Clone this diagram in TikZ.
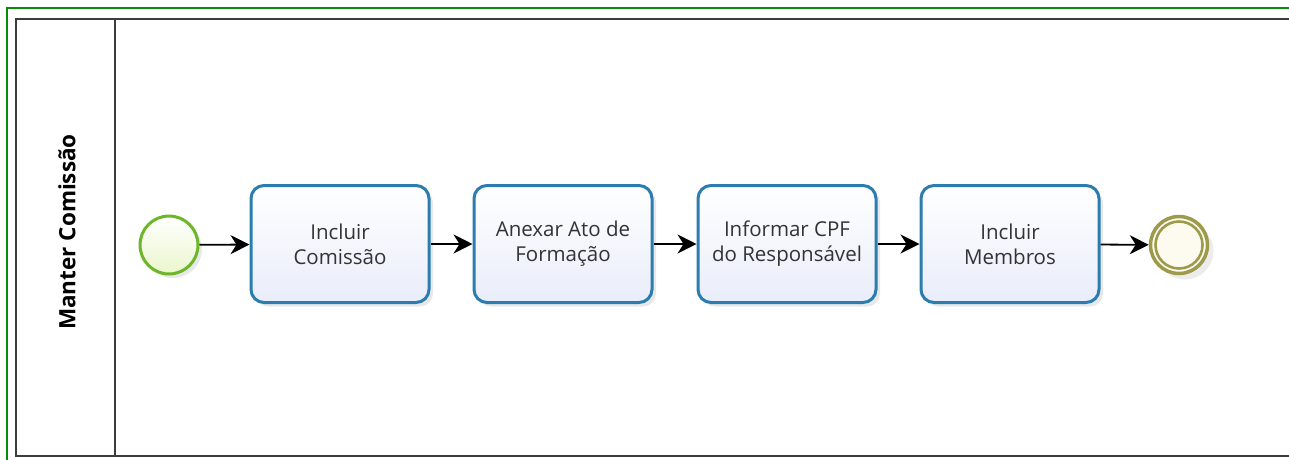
\documentclass[tikz,border=0pt]{standalone}
\usepackage{fontspec}
\setmainfont{Open Sans}
\usetikzlibrary{arrows.meta,shadows,shapes.geometric}
\definecolor{taskblue}{HTML}{2B7DAF}
\definecolor{taskfill}{HTML}{E9EDFA}
\definecolor{startgreen}{HTML}{6DB52A}
\definecolor{startfill}{HTML}{EAF6CC}
\definecolor{endolive}{HTML}{9D9A4C}
\definecolor{endfill}{HTML}{FDFAF0}
\definecolor{lanegray}{HTML}{3C3C3C}
\definecolor{framegreen}{HTML}{0A8A0A}
\tikzset{
  task/.style={draw=taskblue, line width=3pt, rounded corners=13pt,
    minimum width=178pt, minimum height=117pt, align=center,
    top color=white, bottom color=taskfill, middle color=taskfill!50,
    font=\fontsize{20.5}{25}\selectfont, text=black!80,
    drop shadow={opacity=0.18, shadow xshift=4pt, shadow yshift=-4pt}},
  startev/.style={circle, draw=startgreen, line width=3pt, minimum size=58pt,
    inner sep=0pt, top color=white, bottom color=startfill,
    drop shadow={opacity=0.18, shadow xshift=4pt, shadow yshift=-4pt}},
  endev/.style={circle, draw=endolive, line width=3.5pt, minimum size=57pt,
    inner sep=0pt, fill=endfill,
    drop shadow={opacity=0.15, shadow xshift=6pt, shadow yshift=-6pt}},
  endring/.style={draw=endolive, line width=2.6pt},
  flow/.style={draw=black, line width=1.8pt, -{Stealth[length=19pt,width=19pt,inset=6pt]}},
  lane/.style={draw=lanegray, line width=2.6pt},
}
\begin{document}
\begin{tikzpicture}[x=1pt,y=-1pt]
\useasboundingbox (0,0) rectangle (1289,459);
\begin{scope}
\clip (0,0) rectangle (1289,459);
\draw[framegreen, line width=1.4pt] (7,8) rectangle (1300,470);
\draw[lane] (16,19) rectangle (1300,456);
\draw[lane] (115,19) -- (115,456);
\end{scope}
\node[rotate=90, font=\bfseries\fontsize{22.5}{26}\selectfont] (lbl) at (67,232) {Manter Comissão};
\node[startev] (s) at (169,245) {};
\node[task] (t1) at (340,244) {Incluir\\Comissão};
\node[task] (t2) at (563,244) {Anexar Ato de\\Formação};
\node[task] (t3) at (787,244) {Informar CPF\\do Responsável};
\node[task] (t4) at (1010,244) {Incluir\\Membros};
\node[endev] (e) at (1179,245) {};
\draw[endring] (e.center) circle (23.5pt);
\draw[flow] (s) -- (t1);
\draw[flow] (t1) -- (t2);
\draw[flow] (t2) -- (t3);
\draw[flow] (t3) -- (t4);
\draw[flow] (t4) -- (e);
\end{tikzpicture}
\end{document}
